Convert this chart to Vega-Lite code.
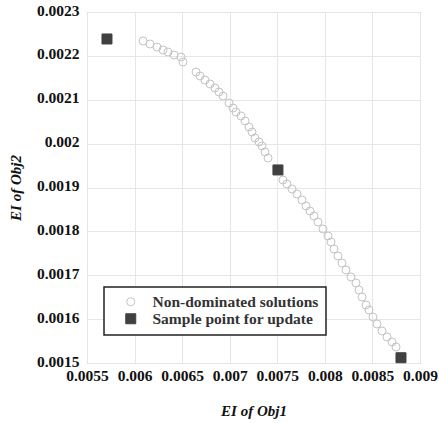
{
  "$schema": "https://vega.github.io/schema/vega-lite/v6.json",
  "autosize": {"type": "none"},
  "padding": {"left": 87, "top": 12, "right": 19, "bottom": 60},
  "width": 333,
  "height": 351,
  "background": "white",
  "data": {
    "values": [
      {"x": 0.006089, "y": 0.0022339, "series": "Non-dominated solutions"},
      {"x": 0.006162, "y": 0.0022271, "series": "Non-dominated solutions"},
      {"x": 0.006236, "y": 0.0022202, "series": "Non-dominated solutions"},
      {"x": 0.006299, "y": 0.0022134, "series": "Non-dominated solutions"},
      {"x": 0.006351, "y": 0.0022088, "series": "Non-dominated solutions"},
      {"x": 0.006414, "y": 0.002202, "series": "Non-dominated solutions"},
      {"x": 0.006488, "y": 0.0021974, "series": "Non-dominated solutions"},
      {"x": 0.006509, "y": 0.002186, "series": "Non-dominated solutions"},
      {"x": 0.006646, "y": 0.0021632, "series": "Non-dominated solutions"},
      {"x": 0.006688, "y": 0.0021541, "series": "Non-dominated solutions"},
      {"x": 0.00674, "y": 0.002145, "series": "Non-dominated solutions"},
      {"x": 0.006793, "y": 0.0021359, "series": "Non-dominated solutions"},
      {"x": 0.006845, "y": 0.0021268, "series": "Non-dominated solutions"},
      {"x": 0.006887, "y": 0.0021177, "series": "Non-dominated solutions"},
      {"x": 0.00693, "y": 0.0021085, "series": "Non-dominated solutions"},
      {"x": 0.006993, "y": 0.0020926, "series": "Non-dominated solutions"},
      {"x": 0.007035, "y": 0.0020812, "series": "Non-dominated solutions"},
      {"x": 0.007066, "y": 0.0020721, "series": "Non-dominated solutions"},
      {"x": 0.007119, "y": 0.002063, "series": "Non-dominated solutions"},
      {"x": 0.007161, "y": 0.0020516, "series": "Non-dominated solutions"},
      {"x": 0.007203, "y": 0.0020379, "series": "Non-dominated solutions"},
      {"x": 0.007234, "y": 0.0020265, "series": "Non-dominated solutions"},
      {"x": 0.007266, "y": 0.0020128, "series": "Non-dominated solutions"},
      {"x": 0.007308, "y": 0.0020037, "series": "Non-dominated solutions"},
      {"x": 0.007339, "y": 0.0019946, "series": "Non-dominated solutions"},
      {"x": 0.007371, "y": 0.0019809, "series": "Non-dominated solutions"},
      {"x": 0.007403, "y": 0.0019672, "series": "Non-dominated solutions"},
      {"x": 0.00756, "y": 0.0019171, "series": "Non-dominated solutions"},
      {"x": 0.007602, "y": 0.001908, "series": "Non-dominated solutions"},
      {"x": 0.007655, "y": 0.0018966, "series": "Non-dominated solutions"},
      {"x": 0.007707, "y": 0.0018852, "series": "Non-dominated solutions"},
      {"x": 0.00776, "y": 0.0018715, "series": "Non-dominated solutions"},
      {"x": 0.007802, "y": 0.0018578, "series": "Non-dominated solutions"},
      {"x": 0.007844, "y": 0.0018464, "series": "Non-dominated solutions"},
      {"x": 0.007886, "y": 0.001835, "series": "Non-dominated solutions"},
      {"x": 0.007928, "y": 0.0018214, "series": "Non-dominated solutions"},
      {"x": 0.007981, "y": 0.0018054, "series": "Non-dominated solutions"},
      {"x": 0.008033, "y": 0.0017895, "series": "Non-dominated solutions"},
      {"x": 0.008065, "y": 0.0017758, "series": "Non-dominated solutions"},
      {"x": 0.008096, "y": 0.0017598, "series": "Non-dominated solutions"},
      {"x": 0.008138, "y": 0.0017439, "series": "Non-dominated solutions"},
      {"x": 0.00818, "y": 0.0017279, "series": "Non-dominated solutions"},
      {"x": 0.008222, "y": 0.001712, "series": "Non-dominated solutions"},
      {"x": 0.008275, "y": 0.001696, "series": "Non-dominated solutions"},
      {"x": 0.008327, "y": 0.0016823, "series": "Non-dominated solutions"},
      {"x": 0.008359, "y": 0.0016664, "series": "Non-dominated solutions"},
      {"x": 0.008391, "y": 0.0016504, "series": "Non-dominated solutions"},
      {"x": 0.008433, "y": 0.0016322, "series": "Non-dominated solutions"},
      {"x": 0.008464, "y": 0.0016208, "series": "Non-dominated solutions"},
      {"x": 0.008506, "y": 0.0016048, "series": "Non-dominated solutions"},
      {"x": 0.008548, "y": 0.0015889, "series": "Non-dominated solutions"},
      {"x": 0.008601, "y": 0.0015729, "series": "Non-dominated solutions"},
      {"x": 0.008653, "y": 0.0015593, "series": "Non-dominated solutions"},
      {"x": 0.008706, "y": 0.0015479, "series": "Non-dominated solutions"},
      {"x": 0.008748, "y": 0.0015365, "series": "Non-dominated solutions"},
      {"x": 0.00571, "y": 0.0022385, "series": "Sample point for update"},
      {"x": 0.007507, "y": 0.00194, "series": "Sample point for update"},
      {"x": 0.0088, "y": 0.001512, "series": "Sample point for update"}
    ]
  },
  "mark": {"type": "point", "strokeWidth": 1, "opacity": 1},
  "encoding": {
    "x": {
      "field": "x", "type": "quantitative",
      "scale": {"domain": [0.0055, 0.009], "nice": false, "zero": false},
      "axis": {
        "title": "EI of Obj1",
        "values": [0.0055, 0.006, 0.0065, 0.007, 0.0075, 0.008, 0.0085, 0.009],
        "format": ".4~f",
        "labelPadding": 5,
        "titleY": 47,
        "titleBaseline": "middle"
      }
    },
    "y": {
      "field": "y", "type": "quantitative",
      "scale": {"domain": [0.0015, 0.0023], "nice": false, "zero": false},
      "axis": {
        "title": "EI of Obj2",
        "values": [0.0015, 0.0016, 0.0017, 0.0018, 0.0019, 0.002, 0.0021, 0.0022, 0.0023],
        "format": ".4~f",
        "labelPadding": 8,
        "labelOffset": -2,
        "titleX": -72,
        "titleBaseline": "middle"
      }
    },
    "shape": {
      "field": "series", "type": "nominal",
      "scale": {"domain": ["Non-dominated solutions", "Sample point for update"], "range": ["circle", "square"]},
      "legend": {"title": null}
    },
    "stroke": {
      "field": "series", "type": "nominal",
      "scale": {"domain": ["Non-dominated solutions", "Sample point for update"], "range": ["#c4c4c4", "#404040"]},
      "legend": {"title": null}
    },
    "fill": {
      "field": "series", "type": "nominal",
      "scale": {"domain": ["Non-dominated solutions", "Sample point for update"], "range": ["transparent", "#404040"]},
      "legend": {"title": null}
    },
    "size": {
      "field": "series", "type": "nominal",
      "scale": {"domain": ["Non-dominated solutions", "Sample point for update"], "range": [64, 100]},
      "legend": {"title": null}
    }
  },
  "config": {
    "view": {"stroke": "#8a8a8a", "strokeWidth": 1},
    "axis": {
      "domain": false,
      "ticks": false,
      "grid": true,
      "gridColor": "#e6e6e6",
      "gridWidth": 1,
      "labelFont": "'Liberation Serif', 'Times New Roman', Times, serif",
      "labelFontSize": 15.5,
      "labelFontWeight": "bold",
      "labelColor": "#111",
      "labelOverlap": false,
      "labelFlush": false,
      "titleFont": "'Liberation Serif', 'Times New Roman', Times, serif",
      "titleFontSize": 15,
      "titleFontWeight": "bold",
      "titleFontStyle": "italic",
      "titleColor": "#111"
    },
    "legend": {
      "orient": "none",
      "legendX": 17,
      "legendY": 275,
      "direction": "vertical",
      "fillColor": "white",
      "strokeColor": "#222",
      "strokeWidth": 1.5,
      "padding": 7,
      "symbolOffset": 12,
      "labelOffset": 14,
      "rowPadding": 0,
      "labelFont": "'Liberation Serif', 'Times New Roman', Times, serif",
      "labelFontSize": 15.5,
      "labelFontWeight": "bold",
      "labelColor": "#333",
      "labelLimit": 300,
      "symbolStrokeWidth": 1
    }
  }
}
